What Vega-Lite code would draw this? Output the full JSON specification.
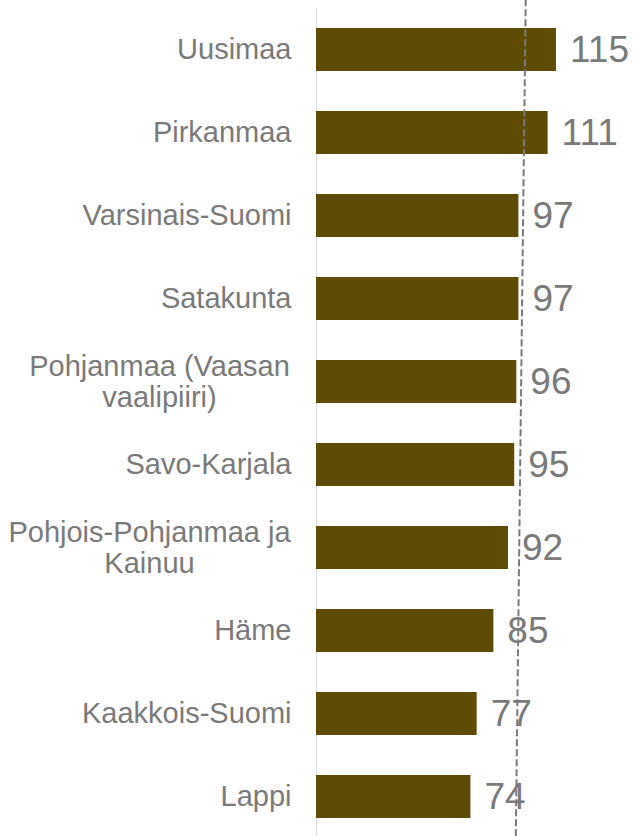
{
  "$schema": "https://vega.github.io/schema/vega-lite/v6.json",
  "autosize": "none",
  "width": 313,
  "height": 830,
  "padding": {"left": 316, "top": 8, "right": 9, "bottom": 0},
  "background": "white",
  "config": {"view": {"stroke": null}, "font": "Liberation Sans"},
  "layer": [
    {
      "data": {
        "values": [
          {"region": "Uusimaa", "value": 115},
          {"region": "Pirkanmaa", "value": 111},
          {"region": "Varsinais-Suomi", "value": 97},
          {"region": "Satakunta", "value": 97},
          {"region": "Pohjanmaa (Vaasan|vaalipiiri)", "value": 96},
          {"region": "Savo-Karjala", "value": 95},
          {"region": "Pohjois-Pohjanmaa ja|Kainuu", "value": 92},
          {"region": "Häme", "value": 85},
          {"region": "Kaakkois-Suomi", "value": 77},
          {"region": "Lappi", "value": 74}
        ]
      },
      "encoding": {
        "y": {
          "field": "region",
          "type": "nominal",
          "sort": null,
          "scale": {"paddingInner": 0.482, "paddingOuter": 0.241},
          "axis": {
            "title": null,
            "ticks": false,
            "domainColor": "#D9D9D9",
            "domainWidth": 1,
            "labelFont": "Liberation Sans",
            "labelFontSize": 29,
            "labelColor": "#7A7A7A",
            "labelLimit": 0,
            "labelLineHeight": 31,
            "labelBaseline": "middle",
            "labelExpr": "split(datum.value, '|')",
            "labelAlign": {
              "condition": {"test": "indexof(datum.value, '|') >= 0", "value": "center"},
              "value": "right"
            },
            "labelOffset": {
              "condition": {"test": "indexof(datum.value, '|') >= 0", "value": -15},
              "value": 0
            },
            "labelPadding": {
              "condition": [
                {"test": "datum.value === 'Pohjanmaa (Vaasan|vaalipiiri)'", "value": 157},
                {"test": "datum.value === 'Pohjois-Pohjanmaa ja|Kainuu'", "value": 167}
              ],
              "value": 25
            }
          }
        },
        "x": {
          "field": "value",
          "type": "quantitative",
          "scale": {"domain": [0, 150], "nice": false},
          "axis": null
        }
      },
      "layer": [
        {"mark": {"type": "bar", "color": "#5E4C04"}},
        {
          "mark": {
            "type": "text",
            "align": "left",
            "baseline": "middle",
            "dx": 14,
            "dy": 1,
            "fontSize": 37,
            "color": "#7A7A7A",
            "font": "Liberation Sans"
          },
          "encoding": {"text": {"field": "value", "type": "quantitative"}}
        }
      ]
    },
    {
      "data": {"values": [{"v": 100.5, "t": 1.01}, {"v": 95.7, "t": -0.01}]},
      "mark": {"type": "line", "color": "#7A7A7A", "strokeWidth": 2, "strokeDash": [7, 3], "clip": false},
      "encoding": {
        "x": {"field": "v", "type": "quantitative", "axis": null},
        "y": {
          "field": "t",
          "type": "quantitative",
          "scale": {"domain": [0, 1], "nice": false, "zero": false},
          "axis": null
        }
      }
    }
  ],
  "resolve": {"scale": {"y": "independent"}}
}
